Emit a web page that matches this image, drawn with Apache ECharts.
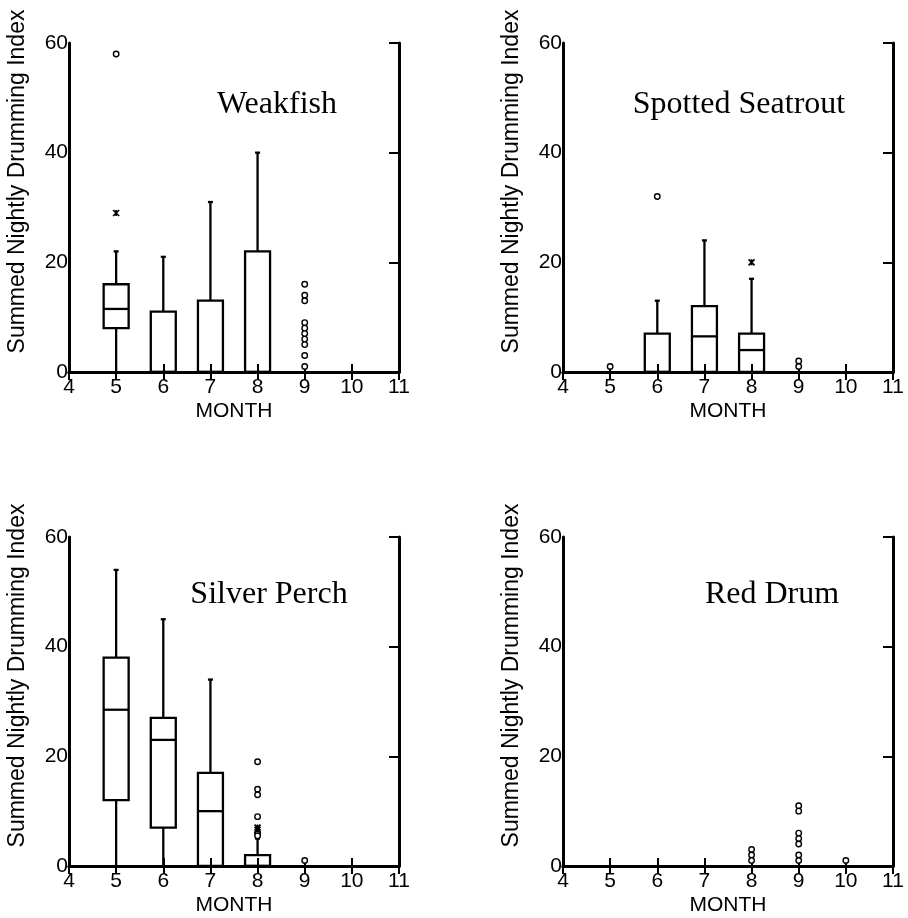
<!DOCTYPE html>
<html>
<head>
<meta charset="utf-8">
<script src="https://cdn.jsdelivr.net/npm/echarts@6/dist/echarts.min.js"></script>
<style>
  html, body { margin: 0; padding: 0; background: #fff; }
  #chart { width: 908px; height: 918px; }
</style>
</head>
<body>
<div id="chart"></div>
<script>
// box rows: [month, whiskerLow, q1, median, q3, whiskerHigh]
const weakfishBoxes = [[5, 0, 8, 11.5, 16, 22], [6, 0, 0, 0, 11, 21], [7, 0, 0, 0, 13, 31], [8, 0, 0, 0, 22, 40]];
const weakfishCircles = [[5, 58], [9, 16], [9, 14], [9, 13], [9, 9], [9, 8], [9, 7], [9, 6], [9, 5], [9, 3], [9, 1]];
const weakfishStars = [[5, 29]];

const seatroutBoxes = [[6, 0, 0, 0, 7, 13], [7, 0, 0, 6.5, 12, 24], [8, 0, 0, 4, 7, 17]];
const seatroutCircles = [[5, 1], [6, 32], [9, 2], [9, 1]];
const seatroutStars = [[8, 20]];

const perchBoxes = [[5, 0, 12, 28.5, 38, 54], [6, 0, 7, 23, 27, 45], [7, 0, 0, 10, 17, 34], [8, 0, 0, 0, 2, 5]];
const perchCircles = [[8, 19], [8, 14], [8, 13], [8, 9], [8, 6], [8, 5.5], [9, 1]];
const perchStars = [[8, 7], [8, 6.6]];

const redDrumBoxes = [];
const redDrumCircles = [[8, 3], [8, 2], [8, 1], [9, 11], [9, 10], [9, 6], [9, 5], [9, 4], [9, 2], [9, 1], [10, 1]];
const redDrumStars = [];

const panels = [
  { name: 'Weakfish', boxes: weakfishBoxes, circles: weakfishCircles, stars: weakfishStars,
    left: 69, top: 43, label: [277, 105] },
  { name: 'Spotted Seatrout', boxes: seatroutBoxes, circles: seatroutCircles, stars: seatroutStars,
    left: 563, top: 43, label: [739, 105] },
  { name: 'Silver Perch', boxes: perchBoxes, circles: perchCircles, stars: perchStars,
    left: 69, top: 537, label: [269, 595] },
  { name: 'Red Drum', boxes: redDrumBoxes, circles: redDrumCircles, stars: redDrumStars,
    left: 563, top: 537, label: [772, 595] },
];

const SANS = '"Liberation Sans", Arial, sans-serif';
const SERIF = '"Liberation Serif", "Times New Roman", serif';
const BOX_W = 0.53;

function renderBox(params, api) {
  const x = api.value(0);
  const lo = api.coord([x, api.value(1)]);
  const q1 = api.coord([x, api.value(2)]);
  const med = api.coord([x, api.value(3)]);
  const q3 = api.coord([x, api.value(4)]);
  const hi = api.coord([x, api.value(5)]);
  const half = api.size([BOX_W, 0])[0] / 2;
  const cap = 2.5;
  const st = { stroke: '#000', lineWidth: 2.3, fill: null };
  const cx = lo[0];
  return {
    type: 'group',
    children: [
      { type: 'rect', shape: { x: cx - half, y: q3[1], width: half * 2, height: q1[1] - q3[1] }, style: st },
      { type: 'line', shape: { x1: cx - half, y1: med[1], x2: cx + half, y2: med[1] }, style: st },
      { type: 'line', shape: { x1: cx, y1: q1[1], x2: cx, y2: lo[1] }, style: st },
      { type: 'line', shape: { x1: cx, y1: q3[1], x2: cx, y2: hi[1] }, style: st },
      { type: 'line', shape: { x1: cx - cap, y1: hi[1], x2: cx + cap, y2: hi[1] }, style: st },
    ],
  };
}

const grid = [];
const xAxis = [];
const yAxis = [];
const series = [];
const graphic = [];

const axisLine = { lineStyle: { color: '#000', width: 3 } };

panels.forEach((p, i) => {
  grid.push({ left: p.left, top: p.top, width: 330, height: 329 });
  xAxis.push({
    type: 'value', gridIndex: i, position: 'bottom', min: 4, max: 11, interval: 1,
    axisLine, splitLine: { show: false },
    axisTick: { inside: true, length: 8, lineStyle: { color: '#000', width: 2 } },
    axisLabel: { color: '#000', fontSize: 21, fontFamily: SANS, margin: 5 },
    name: 'MONTH', nameLocation: 'middle', nameGap: 29,
    nameTextStyle: { color: '#000', fontSize: 21, fontFamily: SANS },
  });
  xAxis.push({
    type: 'value', gridIndex: i, position: 'top', min: 4, max: 11, interval: 1,
    axisLine, splitLine: { show: false },
    axisTick: { inside: true, length: 8, lineStyle: { color: '#000', width: 2 } },
    axisLabel: { show: false },
  });
  yAxis.push({
    type: 'value', gridIndex: i, position: 'left', min: 0, max: 60, interval: 20,
    axisLine, splitLine: { show: false },
    axisTick: { show: false },
    axisLabel: { color: '#000', fontSize: 21, fontFamily: SANS, margin: 1 },
    name: 'Summed Nightly Drumming Index', nameLocation: 'middle', nameGap: 40,
    nameTextStyle: { color: '#000', fontSize: 23, fontFamily: SANS, padding: [0, 0, 0, 52] },
  });
  yAxis.push({
    type: 'value', gridIndex: i, position: 'right', min: 0, max: 60, interval: 20,
    axisLine, splitLine: { show: false },
    axisTick: { inside: true, length: 10, lineStyle: { color: '#000', width: 2 } },
    axisLabel: { show: false },
  });

  series.push({
    type: 'custom', xAxisIndex: 2 * i, yAxisIndex: 2 * i,
    renderItem: renderBox, data: p.boxes, silent: true,
  });
  series.push({
    type: 'scatter', xAxisIndex: 2 * i, yAxisIndex: 2 * i,
    symbol: 'circle', symbolSize: 5.5, data: p.circles, silent: true,
    itemStyle: { color: '#fff', borderColor: '#000', borderWidth: 1.4, opacity: 1 },
  });
  series.push({
    type: 'scatter', xAxisIndex: 2 * i, yAxisIndex: 2 * i,
    symbol: 'path://M0,0L10,10M10,0L0,10M5,0L5,10', symbolSize: 6, data: p.stars, silent: true,
    itemStyle: { color: 'none', borderColor: '#000', borderWidth: 1.7, opacity: 1 },
  });

  graphic.push({
    type: 'text', x: p.label[0], y: p.label[1],
    style: { text: p.name, fill: '#000', font: '32px ' + SERIF, align: 'center', verticalAlign: 'middle' },
  });
});

const myChart = echarts.init(document.getElementById('chart'));
myChart.setOption({
  animation: false,
  backgroundColor: '#fff',
  grid,
  xAxis,
  yAxis,
  series,
  graphic,
});
</script>
</body>
</html>
